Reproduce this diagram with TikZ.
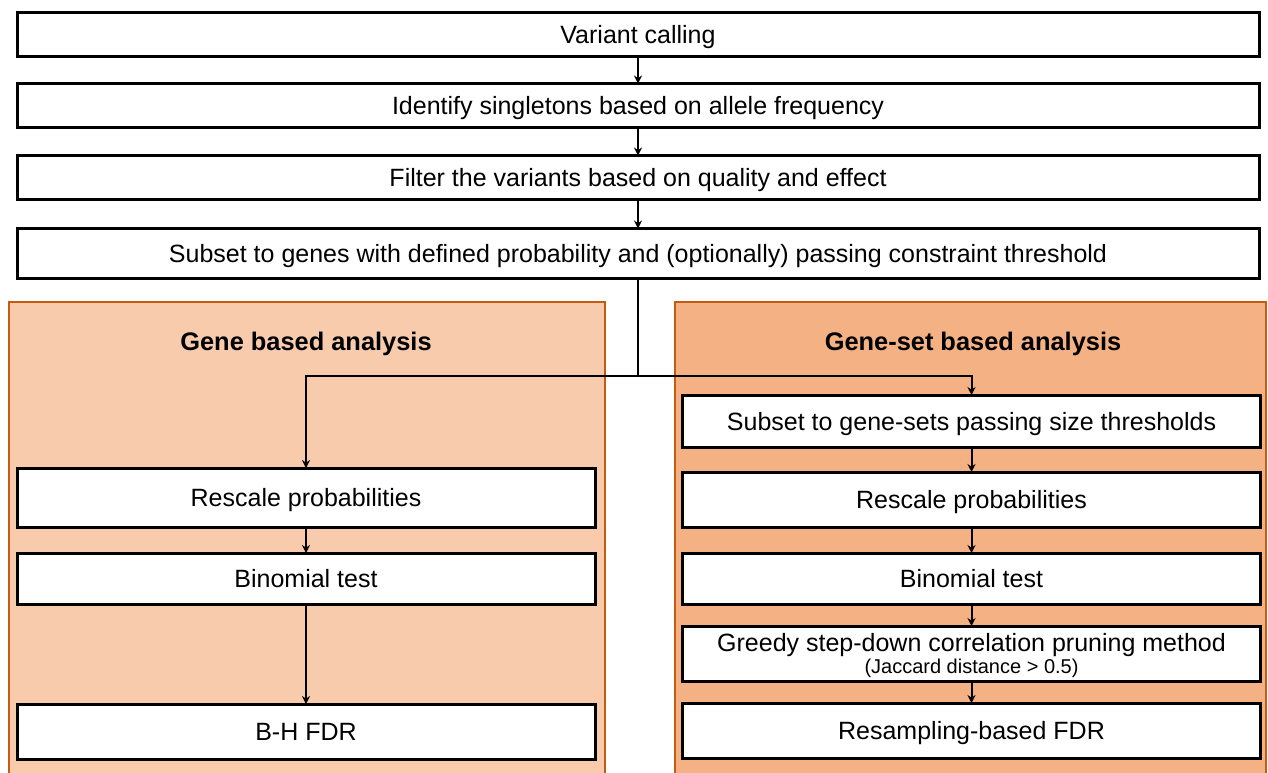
\documentclass[tikz,border=0pt]{standalone}
\usepackage{fontspec}
\setmainfont{Liberation Sans}
\usetikzlibrary{arrows.meta}
\definecolor{panelA}{HTML}{F8CBAD}
\definecolor{panelB}{HTML}{F4B183}
\definecolor{panelLine}{HTML}{C55A11}
\begin{document}
\begin{tikzpicture}[x=0.5pt, y=-0.5pt,
    stepbox/.style={draw, line width=1.5pt, fill=white, inner sep=0pt, outer sep=0pt,
                    font=\fontsize{12.5}{14}\selectfont, align=center, text depth=0pt},
    wide/.style={stepbox, minimum width=621pt, minimum height=22pt},
    half/.style={stepbox, minimum width=289pt, minimum height=27pt},
    panel/.style={draw=panelLine, line width=1pt},
    title/.style={font=\fontsize{12.7}{14}\selectfont\bfseries},
    arr/.style={line width=1pt, -{Stealth[length=4pt, width=4pt]}}]
    \clip (0,0) rectangle (1268,772);
    \fill[white] (0,0) rectangle (1268,772);
    % Paneles
    \draw[panel, fill=panelA] (9,302) rectangle (605,790);
    \draw[panel, fill=panelB] (675,302) rectangle (1266,790);
    \node[title] (tgene) at (306,344) {Gene based analysis};
    \node[title] (tset) at (973,344) {Gene-set based analysis};
    % Pasos comunes
    \node[wide] (call) at (638,34.5) {Variant calling};
    \node[wide] (single) at (638,105.5) {Identify singletons based on allele frequency};
    \node[wide] (filt) at (638,177.5) {Filter the variants based on quality and effect};
    \node[wide, minimum height=25pt] (subset) at (638,253.5)
        {Subset to genes with defined probability and (optionally) passing constraint threshold};
    % Analisis por gen
    \node[half, minimum height=29.5pt] (gresc) at (306,497.5) {Rescale probabilities};
    \node[half, minimum height=25.5pt] (gbin) at (306,578.5) {Binomial test};
    \node[half, minimum height=27.5pt] (gfdr) at (306,731.5) {B-H FDR};
    % Analisis por conjunto de genes
    \node[half, minimum height=26pt] (sthr) at (971.5,421) {Subset to gene-sets passing size thresholds};
    \node[half, minimum height=27.5pt] (sresc) at (971.5,499.5) {Rescale probabilities};
    \node[half, minimum height=25.5pt] (sbin) at (971.5,578.5) {Binomial test};
    \node[half, minimum height=27.5pt] (sprune) at (971.5,653.5)
        {Greedy step-down correlation pruning method\\[-3pt]{\fontsize{10}{11}\selectfont(Jaccard distance > 0.5)}};
    \node[half, minimum height=27.5pt] (sfdr) at (971.5,730.5) {Resampling-based FDR};
    % Flechas
    \draw[arr] (call) -- (single);
    \draw[arr] (single) -- (filt);
    \draw[arr] (filt) -- (subset);
    \coordinate (split) at (638,376);
    \draw[line width=1pt] (subset.south) -- (split);
    \draw[arr] (split) -| (gresc.north);
    \draw[arr] (split) -| (sthr.north);
    \draw[arr] (gresc) -- (gbin);
    \draw[arr] (gbin) -- (gfdr);
    \draw[arr] (sthr) -- (sresc);
    \draw[arr] (sresc) -- (sbin);
    \draw[arr] (sbin) -- (sprune);
    \draw[arr] (sprune) -- (sfdr);
\end{tikzpicture}
\end{document}
